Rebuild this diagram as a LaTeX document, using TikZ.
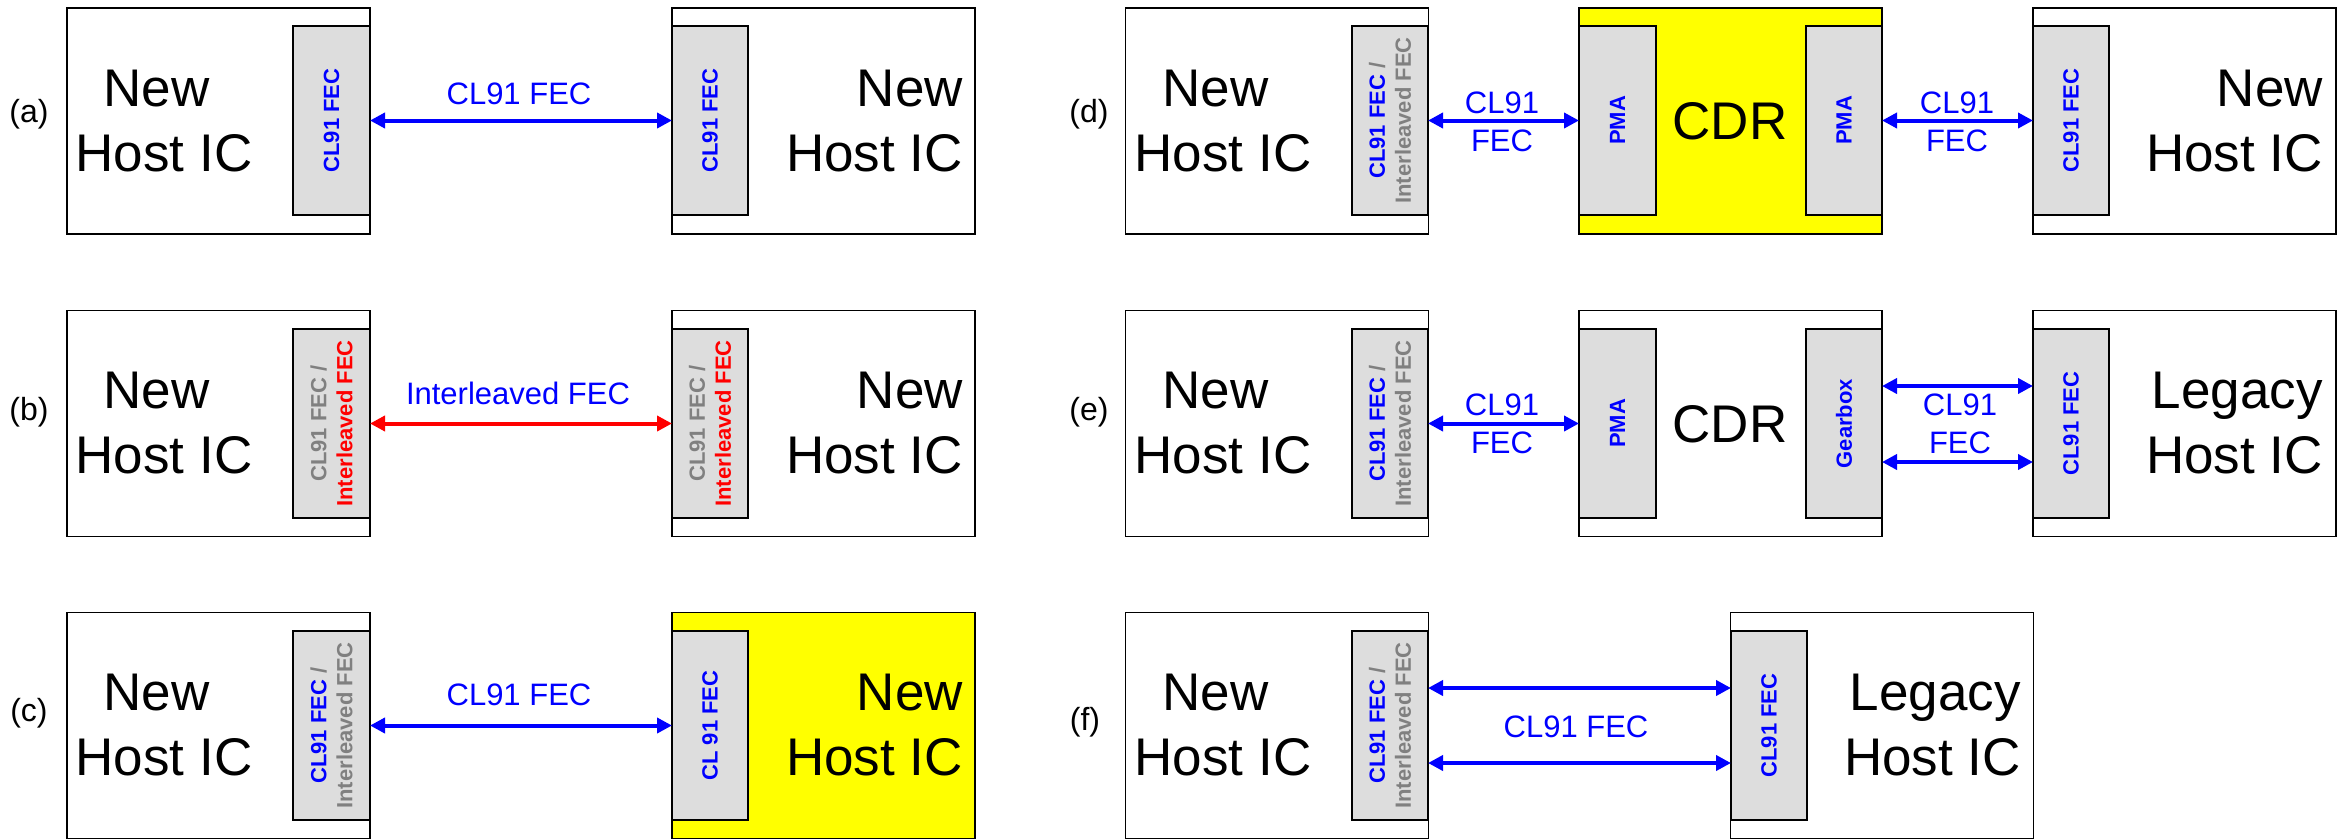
\documentclass[tikz,border=0pt]{standalone}
\usepackage{fontspec}
\setmainfont{Liberation Sans}
\usetikzlibrary{arrows.meta}
\definecolor{fblue}{RGB}{0,0,255}
\definecolor{fred}{RGB}{255,0,0}
\definecolor{fgray}{RGB}{128,128,128}
\definecolor{ffill}{RGB}{221,221,221}
\definecolor{fyellow}{RGB}{255,255,0}
\begin{document}
\begin{tikzpicture}[x=1pt,y=-1pt,
  hostbox/.style={draw=black, line width=1.8pt, fill=white, inner sep=0pt, outer sep=0pt, minimum width=303pt, minimum height=226pt},
  fecbox/.style={draw=black, line width=1.8pt, fill=ffill, inner sep=0pt, outer sep=0pt, minimum height=189pt},
  vlabel/.style={rotate=90, font=\fontsize{22}{26}\selectfont\bfseries, align=center, inner sep=0pt},
  big/.style={font=\fontsize{53}{65}\selectfont, inner sep=0pt},
  lnk/.style={font=\fontsize{31}{38}\selectfont, text=fblue, align=center, inner sep=0pt},
  panel/.style={font=\fontsize{32}{38}\selectfont, inner sep=0pt},
  biarrow/.style={line width=4pt, {Triangle[length=15pt,width=15pt]}-{Triangle[length=15pt,width=15pt]}},
]
\useasboundingbox (0,0) rectangle (2350,839);

% ---------------- (a) ----------------
\node[panel] (pa) at (29,114) {(a)};
\node[hostbox] (aL) at (218.5,121) {};
\node[fecbox, minimum width=77pt] (aLf) at (331.5,120.5) {};
\node[vlabel, text=fblue] (aLft) at (aLf) {CL91 FEC};
\node[big, align=center] (aLt) at (164,121) {New\kern.28em\\Host IC};
\node[hostbox] (aR) at (823.5,121) {};
\node[fecbox, minimum width=76pt] (aRf) at (710,120.5) {};
\node[vlabel, text=fblue] (aRft) at (aRf) {CL91 FEC};
\node[big, align=right, anchor=east] (aRt) at (963,121) {New\\Host IC};
\draw[biarrow, fblue] (aLf.east) -- (aRf.west);
\node[lnk] (aLbl) at (519,94) {CL91 FEC};

% ---------------- (b) ----------------
\node[panel] (pb) at (29,412) {(b)};
\node[hostbox] (bL) at (218.5,423.5) {};
\node[fecbox, minimum width=77pt] (bLf) at (331.5,423.5) {};
\node[vlabel] (bLft) at (bLf) {\textcolor{fgray}{CL91 FEC /}\\\textcolor{fred}{Interleaved FEC}};
\node[big, align=center] (bLt) at (164,423.5) {New\kern.28em\\Host IC};
\node[hostbox] (bR) at (823.5,423.5) {};
\node[fecbox, minimum width=76pt] (bRf) at (710,423.5) {};
\node[vlabel] (bRft) at (bRf) {\textcolor{fgray}{CL91 FEC /}\\\textcolor{fred}{Interleaved FEC}};
\node[big, align=right, anchor=east] (bRt) at (963,423.5) {New\\Host IC};
\draw[biarrow, fred] (bLf.east) -- (bRf.west);
\node[lnk] (bLbl) at (518,393) {Interleaved FEC};

% ---------------- (c) ----------------
\node[panel] (pc) at (29,713) {(c)};
\node[hostbox] (cL) at (218.5,725.5) {};
\node[fecbox, minimum width=77pt] (cLf) at (331.5,725.5) {};
\node[vlabel] (cLft) at (cLf) {\textcolor{fblue}{CL91 FEC} \textcolor{fgray}{/}\\\textcolor{fgray}{Interleaved FEC}};
\node[big, align=center] (cLt) at (164,725.5) {New\kern.28em\\Host IC};
\node[hostbox, fill=fyellow] (cR) at (823.5,725.5) {};
\node[fecbox, minimum width=76pt] (cRf) at (710,725.5) {};
\node[vlabel, text=fblue] (cRft) at (cRf) {CL 91 FEC};
\node[big, align=right, anchor=east] (cRt) at (963,725.5) {New\\Host IC};
\draw[biarrow, fblue] (cLf.east) -- (cRf.west);
\node[lnk] (cLbl) at (519,695) {CL91 FEC};

% ---------------- (d) ----------------
\node[panel] (pd) at (1089,114) {(d)};
\node[hostbox] (dL) at (1277,121) {};
\node[fecbox, minimum width=76pt] (dLf) at (1390,120.5) {};
\node[vlabel] (dLft) at (dLf) {\textcolor{fblue}{CL91 FEC} \textcolor{fgray}{/}\\\textcolor{fgray}{Interleaved FEC}};
\node[big, align=center] (dLt) at (1223,121) {New\kern.28em\\Host IC};
\node[hostbox, fill=fyellow] (dC) at (1730.5,121) {};
\node[fecbox, minimum width=77pt] (dCa) at (1617.5,120.5) {};
\node[vlabel, text=fblue] (dCat) at (dCa) {PMA};
\node[fecbox, minimum width=76pt] (dCb) at (1844,120.5) {};
\node[vlabel, text=fblue] (dCbt) at (dCb) {PMA};
\node[big] (dCt) at (1730,121) {CDR};
\node[hostbox] (dR) at (2184.5,121) {};
\node[fecbox, minimum width=76pt] (dRf) at (2071,120.5) {};
\node[vlabel, text=fblue] (dRft) at (dRf) {CL91 FEC};
\node[big, align=right, anchor=east] (dRt) at (2323,121) {New\\Host IC};
\draw[biarrow, fblue] (dLf.east) -- (dCa.west);
\draw[biarrow, fblue] (dCb.east) -- (dRf.west);
\node[lnk] (dLbl1) at (1502,122) {CL91\\FEC};
\node[lnk] (dLbl2) at (1957,122) {CL91\\FEC};

% ---------------- (e) ----------------
\node[panel] (pe) at (1089,412) {(e)};
\node[hostbox] (eL) at (1277,423.5) {};
\node[fecbox, minimum width=76pt] (eLf) at (1390,423.5) {};
\node[vlabel] (eLft) at (eLf) {\textcolor{fblue}{CL91 FEC} \textcolor{fgray}{/}\\\textcolor{fgray}{Interleaved FEC}};
\node[big, align=center] (eLt) at (1223,423.5) {New\kern.28em\\Host IC};
\node[hostbox] (eC) at (1730.5,423.5) {};
\node[fecbox, minimum width=77pt] (eCa) at (1617.5,423.5) {};
\node[vlabel, text=fblue] (eCat) at (eCa) {PMA};
\node[fecbox, minimum width=76pt] (eCb) at (1844,423.5) {};
\node[vlabel, text=fblue] (eCbt) at (eCb) {Gearbox};
\node[big] (eCt) at (1730,424) {CDR};
\node[hostbox] (eR) at (2184.5,423.5) {};
\node[fecbox, minimum width=76pt] (eRf) at (2071,423.5) {};
\node[vlabel, text=fblue] (eRft) at (eRf) {CL91 FEC};
\node[big, align=right, anchor=east] (eRt) at (2323,423.5) {Legacy\\Host IC};
\draw[biarrow, fblue] (eLf.east) -- (eCa.west);
\draw[biarrow, fblue] ([yshift=37.5pt]eCb.east) -- ([yshift=37.5pt]eRf.west);
\draw[biarrow, fblue] ([yshift=-38.5pt]eCb.east) -- ([yshift=-38.5pt]eRf.west);
\node[lnk] (eLbl1) at (1502,423.5) {CL91\\FEC};
\node[lnk] (eLbl2) at (1960,423.5) {CL91\\FEC};

% ---------------- (f) ----------------
\node[panel] (pf) at (1085,722) {(f)};
\node[hostbox] (fL) at (1277,725.5) {};
\node[fecbox, minimum width=76pt] (fLf) at (1390,725.5) {};
\node[vlabel] (fLft) at (fLf) {\textcolor{fblue}{CL91 FEC} \textcolor{fgray}{/}\\\textcolor{fgray}{Interleaved FEC}};
\node[big, align=center] (fLt) at (1223,725.5) {New\kern.28em\\Host IC};
\node[hostbox] (fR) at (1882,725.5) {};
\node[fecbox, minimum width=76pt] (fRf) at (1769,725.5) {};
\node[vlabel, text=fblue] (fRft) at (fRf) {CL91 FEC};
\node[big, align=right, anchor=east] (fRt) at (2021,725.5) {Legacy\\Host IC};
\draw[biarrow, fblue] ([yshift=37.5pt]fLf.east) -- ([yshift=37.5pt]fRf.west);
\draw[biarrow, fblue] ([yshift=-37.5pt]fLf.east) -- ([yshift=-37.5pt]fRf.west);
\node[lnk] (fLbl) at (1576,727) {CL91 FEC};
\end{tikzpicture}
\end{document}
